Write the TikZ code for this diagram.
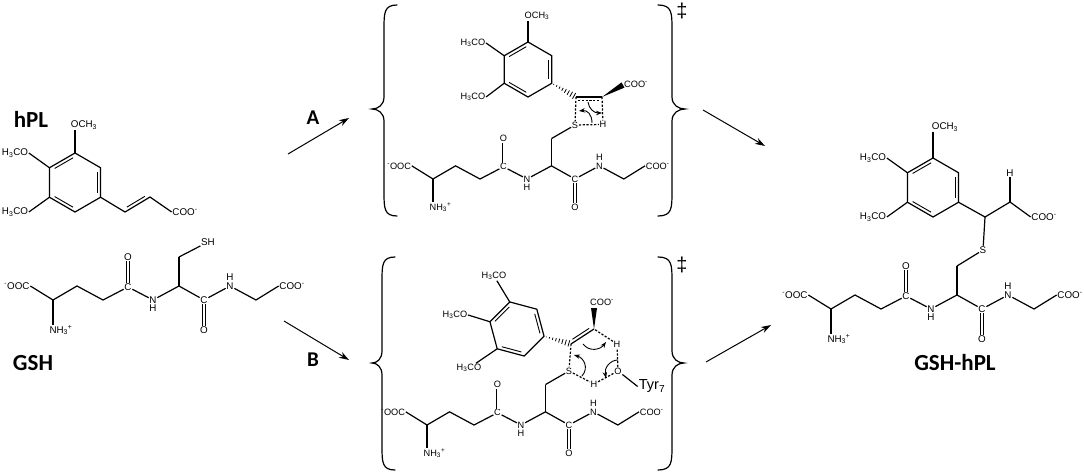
\documentclass[tikz,border=0pt]{standalone}
\usepackage{fontspec}
\setmainfont{Liberation Sans}
\newfontfamily\namefont{Carlito}
\usetikzlibrary{calc,arrows.meta}

\tikzset{
  atom/.style={inner sep=.6pt,font=\fontsize{9.8}{10}\selectfont},
  boxatoms/.style={atom/.append style={font=\fontsize{9.2}{10}\selectfont}},
  bondline/.style={line width=1.2pt},
  dbl/.style={double,double distance=2pt,line width=.8pt},
  ts/.style={dashed,dash pattern=on 2.2pt off 1.6pt,line width=1.2pt},
  curly/.style={line width=.9pt,-{Stealth[length=6pt,width=4.5pt]}},
  reaction/.style={line width=1pt,-{Stealth[length=10pt,width=6.5pt]}},
  bracket/.style={line width=1.2pt,line cap=round},
  molname/.style={font=\namefont\bfseries\fontsize{23}{24}\selectfont,inner sep=0pt},
  letter/.style={font=\namefont\bfseries\fontsize{21}{22}\selectfont,inner sep=0pt},
  dagger/.style={font=\fontsize{20}{22}\selectfont,inner sep=0pt},
}

% ring corners #1_1 ... #1_6 run clockwise from the top
\newcommand{\arene}[5]{
  \foreach \k in {1,...,6}
    \coordinate (#1_\k) at ($(#2,#3)+({-90+#5+60*(\k-1)}:#4)$);
  \draw[bondline,line join=round] (#1_1) -- (#1_2) -- (#1_3) -- (#1_4) -- (#1_5) -- (#1_6) -- cycle;
  \innerbond{#1_6}{#1_1}
  \innerbond{#1_2}{#1_3}
  \innerbond{#1_4}{#1_5}
}
\newcommand{\innerbond}[2]{
  \draw[line width=.9pt] ($(#1)!.14!(#2)!3.2pt!-90:(#2)$) -- ($(#2)!.14!(#1)!3.2pt!90:(#1)$);
}
\newcommand{\hashwedge}[2]{
  \foreach \t/\w in {.08/.4,.2/.8,.32/1.2,.44/1.6,.56/2,.68/2.4,.8/2.8,.92/3.2}
    \draw[line width=.8pt] ($(#1)!\t!(#2)!\w pt!90:(#2)$) -- ($(#1)!\t!(#2)!\w pt!-90:(#2)$);
}
\newcommand{\boldwedge}[2]{
  \fill ($(#1)$) -- ($(#2)!3pt!90:(#1)$) -- ($(#2)!3pt!-90:(#1)$) -- cycle;
}
\newcommand{\bigbrace}[6]{ % end x, spine x, tip x, ys: top, tip, bottom
  \draw[bracket] (#1,#4) .. controls (#2,#4) and (#2,#4+8) .. (#2,#4+24)
    -- (#2,#5-12) .. controls (#2,#5-4) and ($(#2,#5)!.5!(#3,#5)$) .. (#3,#5)
    .. controls ($(#2,#5)!.5!(#3,#5)$) and (#2,#5+4) .. (#2,#5+12)
    -- (#2,#6-24) .. controls (#2,#6-8) and (#2,#6) .. (#1,#6);
}

% the peptide chain: prefix, x, y of first CH, scale
\newcommand{\peptide}[4]{
  \begin{scope}[shift={(#2,#3)},x=#4pt,y=-#4pt]
    \node[atom] (#1_ooc) at (-36,-14) {\textsuperscript{-}OOC};
    \coordinate (#1_ca) at (0,0);
    \node[atom] (#1_nh) at (8,30) {NH\textsubscript{3}\textsuperscript{+}};
    \coordinate (#1_c1) at (24,-14);
    \coordinate (#1_c2) at (50,0);
    \node[atom] (#1_co) at (75,-13) {C};
    \node[atom] (#1_o) at (75,-43) {O};
    \node[atom] (#1_n) at (100,0) {N};
    \node[atom] (#1_h) at (100,8.5) {H};
    \coordinate (#1_cy) at (126,-14);
    \coordinate (#1_cb) at (126,-43);
    \node[atom] (#1_cp) at (151,0) {C};
    \node[atom] (#1_op) at (151,30) {O};
    \node[atom] (#1_m) at (177,-14) {N};
    \node[atom] (#1_hm) at (177,-23) {H};
    \coordinate (#1_gl) at (203,0);
    \node[atom] (#1_coo) at (239,-14) {COO\textsuperscript{-}};
  \end{scope}
  \draw[bondline] (#1_ooc.east) -- (#1_ca) -- (#1_c1) -- (#1_c2) -- (#1_co);
  \draw[bondline] (#1_ca) -- (#1_ca |- #1_nh.north);
  \draw[dbl] (#1_co) -- (#1_o);
  \draw[bondline] (#1_co) -- (#1_n);
  \draw[bondline] (#1_n) -- (#1_cy) -- (#1_cp);
  \draw[bondline] (#1_cy) -- (#1_cb);
  \draw[dbl] (#1_cp) -- (#1_op);
  \draw[bondline] (#1_cp) -- (#1_m);
  \draw[bondline] (#1_m) -- (#1_gl) -- (#1_coo.west);
}

\begin{document}
\begin{tikzpicture}[x=1pt,y=-1pt]
  \useasboundingbox (0,0) rectangle (1084,473);

  % hPL
  \node[molname] (hpl) at (31,119) {hPL};
  \arene{hp}{75}{182.5}{29.5}{0}
  \node[atom] (hp_me) at (84,125) {OCH\textsubscript{3}};
  \node[atom] (hp_ul) at (15,153) {H\textsubscript{3}CO};
  \node[atom] (hp_ll) at (15,212) {H\textsubscript{3}CO};
  \coordinate (hp_a) at (125,212);
  \coordinate (hp_b) at (150,197);
  \node[atom] (hp_coo) at (185,212) {COO\textsuperscript{-}};
  \draw[bondline] (hp_1) -- (hp_1 |- hp_me.south);
  \draw[bondline] (hp_6) -- (hp_ul.east);
  \draw[bondline] (hp_5) -- (hp_ll.east);
  \draw[bondline] (hp_3) -- (hp_a) -- (hp_b) -- (hp_coo.west);
  \innerbond{hp_b}{hp_a}

  % GSH
  \node[molname] (gsh) at (33,363) {GSH};
  \peptide{gs}{53}{300}{1}
  \node[atom] (gs_sh) at (208,242) {SH};
  \draw[bondline] (gs_cb) -- (gs_sh);

  % path A
  \begin{scope}[boxatoms]
    \arene{ta}{528}{69.5}{27.5}{0}
    \node[atom] (ta_me) at (537,16) {OCH\textsubscript{3}};
    \node[atom] (ta_ul) at (473,43) {H\textsubscript{3}CO};
    \node[atom] (ta_ll) at (473,97) {H\textsubscript{3}CO};
    \coordinate (ta_a) at (576,97);
    \coordinate (ta_b) at (602,97);
    \coordinate (ta_w) at (623,85);
    \node[atom] (ta_coo) at (636,84) {COO\textsuperscript{-}};
    \node[atom] (ta_s) at (575,125) {S};
    \node[atom] (ta_h) at (603,124.5) {H};
    \peptide{pa}{433}{179}{.94}
    \draw[bondline] (ta_1) -- (ta_1 |- ta_me.south);
    \draw[bondline] (ta_6) -- (ta_ul.east);
    \draw[bondline] (ta_5) -- (ta_ll.east);
    \hashwedge{ta_3}{ta_a}
    \boldwedge{ta_b}{ta_w}
    \draw[line width=1.4pt] (ta_a) -- (ta_b);
    \draw[ts] (ta_a) -- (ta_s);
    \draw[ts] (ta_b) -- (ta_h);
    \draw[ts] (ta_s) -- (ta_h);
    \draw[ts] ($(ta_a)+(2,3.5)$) -- ($(ta_b)+(-2,3.5)$);
    \draw[bondline] (pa_cb) -- (ta_s);
    \coordinate (ta_c1) at (592,123);
    \coordinate (ta_c2) at (579,111);
    \coordinate (ta_c3) at (588,102);
    \coordinate (ta_c4) at (602,113);
    \draw[curly] (ta_c1) .. controls (592,114) and (587,110) .. (ta_c2);
    \draw[curly] (ta_c3) .. controls (589,109) and (594,113) .. (ta_c4);
  \end{scope}

  % path B
  \begin{scope}[boxatoms]
    \arene{tb}{517}{329}{28}{-15}
    \node[atom] (tb_up) at (494,276) {H\textsubscript{3}CO};
    \node[atom] (tb_mi) at (455,315) {H\textsubscript{3}CO};
    \node[atom] (tb_lo) at (469,368) {H\textsubscript{3}CO};
    \coordinate (tb_a) at (571,344);
    \coordinate (tb_b) at (594,329);
    \coordinate (tb_w) at (594,308);
    \node[atom] (tb_coo) at (602,302) {COO\textsuperscript{-}};
    \node[atom] (tb_s) at (569,371) {S};
    \node[atom] (tb_h1) at (594,384) {H};
    \node[atom] (tb_o) at (618,371) {O};
    \node[atom] (tb_h2) at (617,344) {H};
    \node[font=\fontsize{14.5}{16}\selectfont,inner sep=1pt] (tb_tyr) at (652,386.5) {Tyr\textsubscript{7}};
    \peptide{pb}{427}{425}{.94}
    \draw[bondline] (tb_1) -- (tb_up);
    \draw[bondline] (tb_6) -- (tb_mi.east);
    \draw[bondline] (tb_5) -- (tb_lo);
    \hashwedge{tb_3}{tb_a}
    \boldwedge{tb_b}{tb_w}
    \draw[line width=1.2pt] (tb_a) -- (tb_b);
    \innerbond{tb_b}{tb_a}
    \draw[ts] (tb_a) -- (tb_s);
    \draw[ts] (tb_s) -- (tb_h1);
    \draw[ts] (tb_h1) -- (tb_o);
    \draw[ts] (tb_o) -- (tb_h2);
    \draw[ts] (tb_h2) -- (tb_b);
    \draw[bondline] (tb_o) -- (tb_tyr.west);
    \draw[bondline] (pb_cb) -- (tb_s);
    \coordinate (tb_c1) at (583,344);
    \coordinate (tb_c2) at (606,342);
    \coordinate (tb_c3) at (582,376);
    \coordinate (tb_c4) at (574,355);
    \coordinate (tb_c5) at (618,360);
    \coordinate (tb_c6) at (606,378);
    \draw[curly] (tb_c1) .. controls (589,352) and (600,350) .. (tb_c2);
    \draw[curly] (tb_c3) .. controls (589,368) and (584,358) .. (tb_c4);
    \draw[curly] (tb_c5) .. controls (610,360) and (604,368) .. (tb_c6);
  \end{scope}

  % GSH-hPL
  \node[molname] (gshhpl) at (955,363) {GSH-hPL};
  \arene{pr}{933}{187.5}{29.5}{0}
  \node[atom] (pr_me) at (945,127) {OCH\textsubscript{3}};
  \node[atom] (pr_ul) at (873,158) {H\textsubscript{3}CO};
  \node[atom] (pr_ll) at (873,217) {H\textsubscript{3}CO};
  \coordinate (pr_a) at (985,217);
  \coordinate (pr_b) at (1010,202);
  \node[atom] (pr_h) at (1010,173) {H};
  \node[atom] (pr_coo) at (1044,217) {COO\textsuperscript{-}};
  \node[atom] (pr_s) at (983,250) {S};
  \peptide{pc}{831}{309}{1}
  \draw[bondline] (pr_1) -- (pr_1 |- pr_me.south);
  \draw[bondline] (pr_6) -- (pr_ul.east);
  \draw[bondline] (pr_5) -- (pr_ll.east);
  \draw[bondline] (pr_3) -- (pr_a) -- (pr_b) -- (pr_coo.west);
  \draw[bondline] (pr_b) -- (pr_h);
  \draw[bondline] (pr_a) -- (pr_s);
  \draw[bondline] (pc_cb) -- (pr_s);

  % brackets
  \bigbrace{397}{384}{372}{5}{109}{216}
  \bigbrace{658}{672}{685}{5}{109}{216}
  \bigbrace{395}{382}{372}{257}{363}{470}
  \bigbrace{658}{672}{684}{257}{363}{470}
  \node[dagger] (dag_a) at (682,11) {‡};
  \node[dagger] (dag_b) at (682,265) {‡};

  % reaction arrows
  \node[letter] (lab_a) at (313,118) {A};
  \node[letter] (lab_b) at (313,360) {B};
  \coordinate (a_s) at (288,154);
  \coordinate (a_e) at (349,118);
  \coordinate (b_s) at (284,321);
  \coordinate (b_e) at (349,360);
  \coordinate (c_s) at (703,110);
  \coordinate (c_e) at (765,146);
  \coordinate (d_s) at (706,362);
  \coordinate (d_e) at (771,325);
  \draw[reaction] (a_s) -- (a_e);
  \draw[reaction] (b_s) -- (b_e);
  \draw[reaction] (c_s) -- (c_e);
  \draw[reaction] (d_s) -- (d_e);
\end{tikzpicture}
\end{document}
